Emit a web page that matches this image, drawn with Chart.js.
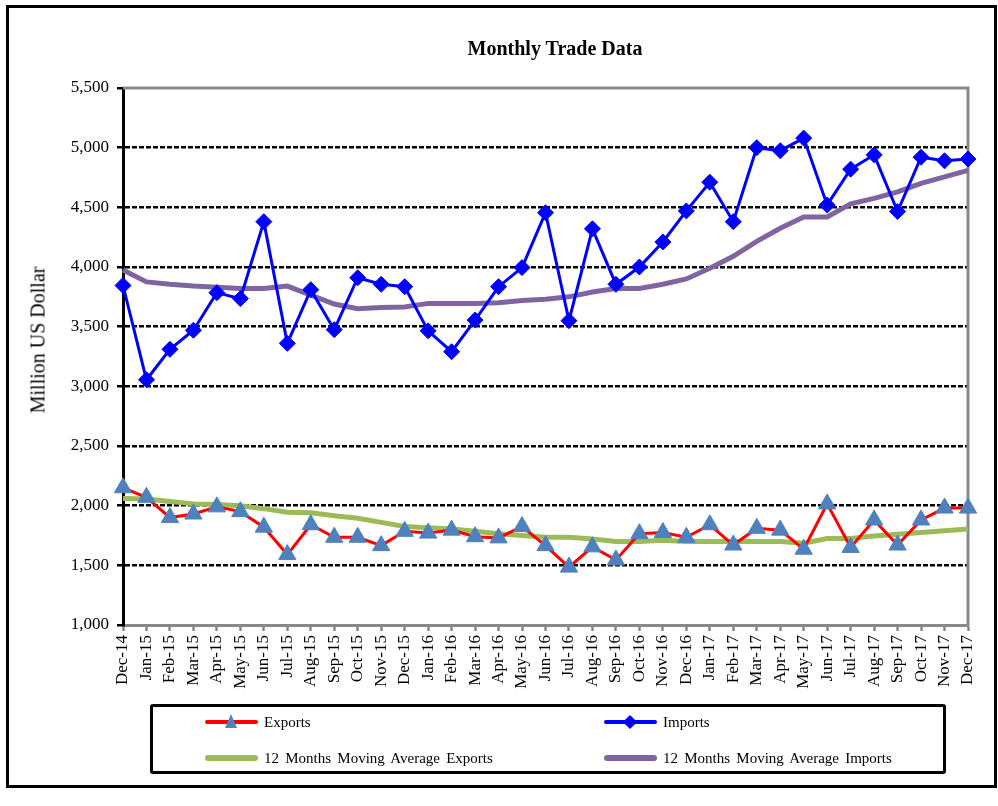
<!DOCTYPE html>
<html>
<head>
<meta charset="utf-8">
<script src="https://cdn.jsdelivr.net/npm/chart.js@4.4.1/dist/chart.umd.min.js"></script>
<style>
  body { margin: 0; background: #fff; font-family: "Liberation Serif", "Times New Roman", serif; }
  #wrap { position: relative; width: 998px; height: 806px; overflow: hidden; }
  #frame { position: absolute; left: 6px; top: 5px; width: 991px; height: 783px; box-sizing: border-box; border: 3px solid #000; }
  #chart { position: absolute; left: 0; top: 0; }
  #title { position: absolute; left: 405px; width: 300px; top: 37px; text-align: center; font-weight: bold; font-size: 20px; }
  #ytitle { position: absolute; left: 38px; top: 340px; transform: translate(-50%, -50%) rotate(-90deg); white-space: nowrap; font-size: 20px; }
  #legend { position: absolute; left: 150px; top: 704px; width: 796px; height: 70px; box-sizing: border-box; border: 3px solid #000; border-radius: 3px; }
  .item { position: absolute; height: 20px; line-height: 20px; font-size: 15px; white-space: nowrap; word-spacing: 2.5px; }
  .sample { display: inline-block; position: relative; width: 53px; height: 20px; vertical-align: top; margin-right: 6px; }
  .sample .ln { position: absolute; left: 0; right: 0; top: 8px; height: 4px; border-radius: 2px; }
  .sample .tri { position: absolute; left: 20px; top: 2px; width: 0; height: 0; border-left: 6px solid transparent; border-right: 6px solid transparent; border-bottom: 14px solid #4f81bd; }
  .sample .dia { position: absolute; left: 21px; top: 5px; width: 10px; height: 10px; background: #0000ff; transform: rotate(45deg); }
</style>
</head>
<body>
<div id="wrap">
  <div id="frame"></div>
  <canvas id="chart" width="998" height="806"></canvas>
  <div id="title">Monthly Trade Data</div>
  <div id="ytitle">Million US Dollar</div>
  <div id="legend"></div>
  <div class="item" style="left:205px; top:712px;"><span class="sample"><span class="ln" style="background:#ff0000"></span><span class="tri"></span></span>Exports</div>
  <div class="item" style="left:604px; top:712px;"><span class="sample"><span class="ln" style="background:#0000ff"></span><span class="dia"></span></span>Imports</div>
  <div class="item" style="left:205px; top:748px;"><span class="sample"><span class="ln" style="background:#9bbb59; height:6px; top:7px; border-radius:3px"></span></span>12 Months Moving Average Exports</div>
  <div class="item" style="left:604px; top:748px;"><span class="sample"><span class="ln" style="background:#8064a2; height:6px; top:7px; border-radius:3px"></span></span>12 Months Moving Average Imports</div>
</div>
<script>
const months = ['Dec-14', 'Jan-15', 'Feb-15', 'Mar-15', 'Apr-15', 'May-15', 'Jun-15', 'Jul-15', 'Aug-15', 'Sep-15', 'Oct-15', 'Nov-15', 'Dec-15',
  'Jan-16', 'Feb-16', 'Mar-16', 'Apr-16', 'May-16', 'Jun-16', 'Jul-16', 'Aug-16', 'Sep-16', 'Oct-16', 'Nov-16', 'Dec-16',
  'Jan-17', 'Feb-17', 'Mar-17', 'Apr-17', 'May-17', 'Jun-17', 'Jul-17', 'Aug-17', 'Sep-17', 'Oct-17', 'Nov-17', 'Dec-17'];

const exportsData = [2150, 2070, 1900, 1930, 1990, 1950, 1820, 1590, 1840, 1735, 1735, 1665, 1785,
  1770, 1795, 1740, 1730, 1825, 1665, 1485, 1655, 1545, 1765, 1775, 1735,
  1840, 1670, 1810, 1795, 1635, 2015, 1650, 1880, 1670, 1880, 1980, 1980];

const importsData = [3845, 3055, 3310, 3470, 3785, 3735, 4380, 3360, 3810, 3475, 3910, 3855, 3835,
  3465, 3290, 3555, 3835, 3995, 4455, 3550, 4320, 3855, 4000, 4210, 4470,
  4710, 4380, 5000, 4975, 5080, 4520, 4820, 4940, 4465, 4920, 4890, 4905];

const avgExports = [2060, 2055, 2035, 2015, 2010, 2000, 1975, 1945, 1940, 1915, 1895, 1860, 1825,
  1815, 1805, 1785, 1765, 1750, 1735, 1735, 1720, 1700, 1700, 1710, 1700,
  1700, 1700, 1700, 1700, 1685, 1725, 1725, 1745, 1760, 1775, 1790, 1805];

const avgImports = [3975, 3875, 3855, 3840, 3830, 3820, 3820, 3840, 3765, 3690, 3650, 3660, 3665,
  3695, 3695, 3695, 3700, 3720, 3730, 3750, 3790, 3820, 3820, 3855, 3900,
  3990, 4090, 4215, 4325, 4420, 4420, 4530, 4575, 4630, 4700, 4755, 4810];

const yTicks = [1000, 1500, 2000, 2500, 3000, 3500, 4000, 4500, 5000, 5500];

// gray top and right edge of the plot area
const plotEdges = {
  id: 'plotEdges',
  beforeDatasetsDraw(chart) {
    const ctx = chart.ctx, a = chart.chartArea;
    ctx.save();
    ctx.strokeStyle = '#888';
    ctx.lineWidth = 3;
    ctx.beginPath();
    ctx.moveTo(a.left, a.top);
    ctx.lineTo(a.right, a.top);
    ctx.lineTo(a.right, a.bottom + 1.5);
    ctx.stroke();
    ctx.restore();
  }
};

const CHART = document.getElementById('chart');
let tradeChart = new Chart(CHART, {
  type: 'line',
  data: {
    labels: months,
    datasets: [
      {
        label: 'Exports',
        data: exportsData,
        borderColor: '#ff0000',
        borderWidth: 3,
        pointStyle: 'triangle',
        pointRadius: 10,
        pointBackgroundColor: '#4f81bd',
        pointBorderColor: '#4f81bd',
        pointBorderWidth: 1,
        tension: 0,
        clip: false
      },
      {
        label: 'Imports',
        data: importsData,
        borderColor: '#0000ff',
        borderWidth: 3,
        pointStyle: 'rectRot',
        pointRadius: 8,
        pointBackgroundColor: '#0000ff',
        pointBorderColor: '#0000ff',
        pointBorderWidth: 1,
        tension: 0,
        clip: false
      },
      {
        label: '12 Months Moving Average Exports',
        data: avgExports,
        borderColor: '#9bbb59',
        borderWidth: 5,
        pointRadius: 0,
        tension: 0,
        clip: false
      },
      {
        label: '12 Months Moving Average Imports',
        data: avgImports,
        borderColor: '#8064a2',
        borderWidth: 5,
        pointRadius: 0,
        tension: 0,
        clip: false
      }
    ]
  },
  options: {
    responsive: false,
    animation: false,
    devicePixelRatio: 1,
    layout: { padding: { left: 20, right: 30, top: 88, bottom: 111 } },
    plugins: {
      legend: { display: false },
      title: { display: false },
      tooltip: { enabled: false }
    },
    scales: {
      x: {
        offset: false,
        afterFit: s => { s.height = 70; },
        grid: {
          color: 'rgba(0,0,0,0)',
          tickColor: '#888',
          tickWidth: 2.5,
          tickLength: 6,
          drawTicks: true
        },
        border: { color: '#888', width: 3 },
        ticks: {
          minRotation: 90,
          maxRotation: 90,
          autoSkip: false,
          padding: 4,
          color: '#000',
          font: { family: '"Liberation Serif", "Times New Roman", serif', size: 17 }
        }
      },
      y: {
        min: 1000,
        max: 5500,
        afterFit: s => { s.width = 103; },
        afterBuildTicks: s => { s.ticks = yTicks.map(v => ({ value: v })); },
        grid: {
          color: c => (c.tick && (c.tick.value === 1000 || c.tick.value === 5500)) ? 'rgba(0,0,0,0)' : '#000',
          lineWidth: 2.5,
          tickColor: '#000',
          tickWidth: 2.5,
          tickLength: 6,
          tickBorderDash: []
        },
        border: { color: '#000', width: 3, dash: [5, 2] },
        ticks: {
          padding: 8,
          color: '#000',
          font: { family: '"Liberation Serif", "Times New Roman", serif', size: 17 },
          callback: v => v.toLocaleString('en-US')
        }
      }
    }
  },
  plugins: [plotEdges]
});
</script>
</body>
</html>
